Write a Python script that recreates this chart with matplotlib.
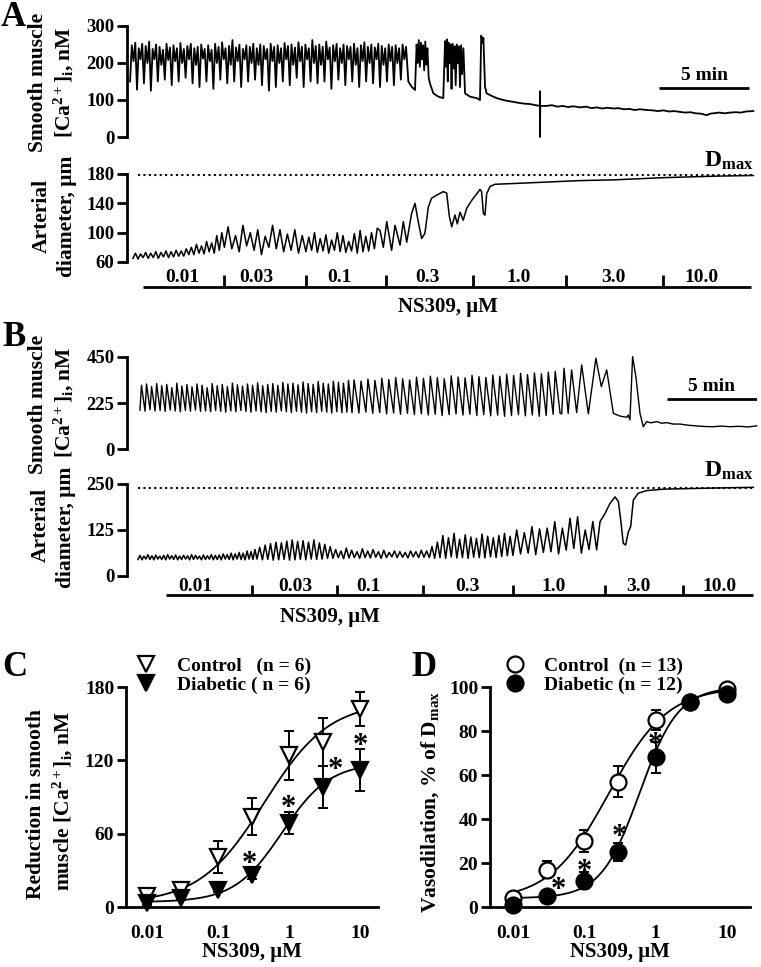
import numpy as np
import matplotlib.pyplot as plt

plt.rcParams['font.family'] = 'Liberation Serif'
plt.rcParams['font.weight'] = 'bold'
plt.rcParams['axes.labelweight'] = 'bold'
plt.rcParams['mathtext.fontset'] = 'custom'
plt.rcParams['mathtext.rm'] = 'Liberation Serif:bold'
plt.rcParams['mathtext.it'] = 'Liberation Serif:bold'
plt.rcParams['mathtext.bf'] = 'Liberation Serif:bold'

W, H = 761, 967

# ---------------- panel A : traces (time in min) ----------------
# Ca2+ trace, fast oscillating part (one peak / trough per cycle)
A_ca_osc_span = (0.17, 15.6)
A_ca_peaks = [248, 255, 240, 252, 246, 258, 238, 250, 244, 236, 252, 242, 248, 240, 254, 238, 246, 252, 240, 244,
              250, 238, 248, 236, 252, 244, 256, 240, 246, 262, 242, 250, 238, 248, 244, 252, 240, 250, 246, 238,
              252, 244, 248, 240, 254, 246, 250, 242, 256, 244, 250, 240, 262, 246, 250, 244, 258, 242, 248, 252,
              240, 250, 246, 244, 252, 240, 248, 256, 244, 250, 242, 252, 246, 240, 250, 244, 248, 240, 250, 244]
A_ca_troughs = [150, 205, 128, 210, 145, 200, 125, 210, 150, 195, 155, 208, 140, 205, 150, 200, 160, 210, 145, 195,
                135, 212, 150, 205, 130, 200, 155, 210, 145, 195, 150, 205, 135, 210, 150, 200, 155, 195, 140, 210,
                125, 205, 135, 200, 150, 210, 140, 195, 160, 205, 135, 210, 150, 200, 145, 195, 150, 210, 130, 205,
                155, 200, 140, 210, 150, 195, 135, 205, 150, 200, 145, 210, 135, 195, 150, 205, 140, 200, 155, 210]
# bursts, decay and artefact (time, value)
A_ca_tail = [(15.63, 150), (15.81, 136), (16.0, 127), (16.09, 250), (16.15, 200), (16.21, 262), (16.27, 190),
             (16.33, 255), (16.39, 210), (16.45, 248), (16.51, 180), (16.57, 258), (16.63, 195), (16.69, 240),
             (16.76, 160), (16.83, 145), (17.02, 118), (17.3, 109), (17.57, 105), (17.67, 259), (17.72, 190),
             (17.77, 264), (17.82, 150), (17.87, 255), (17.93, 200), (17.98, 250), (18.03, 130), (18.08, 252),
             (18.14, 185), (18.2, 245), (18.26, 140), (18.32, 250), (18.38, 200), (18.44, 245), (18.5, 135),
             (18.56, 248), (18.62, 170), (18.69, 240), (18.78, 118), (19.06, 109), (19.43, 105), (19.61, 100),
             (19.68, 274), (19.76, 255), (19.8, 268), (19.89, 136), (19.98, 118), (20.35, 109), (20.6, 104),
             (20.91, 100), (21.2, 97), (21.46, 95), (21.8, 92), (22.1, 90), (22.39, 89), (22.7, 86), (22.94, 84),
             (22.94, 123), (22.94, 0), (22.96, 84), (23.32, 84), (23.6, 86), (23.9, 82), (24.2, 84), (24.5, 81),
             (24.8, 83), (25.17, 80), (25.5, 82), (25.8, 78), (26.1, 80), (26.4, 77), (26.7, 79), (27.02, 77),
             (27.3, 78), (27.6, 75), (27.9, 76), (28.2, 73), (28.5, 75), (28.87, 73), (29.2, 72), (29.5, 70),
             (29.8, 72), (30.1, 69), (30.4, 70), (30.72, 68), (31.0, 66), (31.3, 67), (31.6, 64), (31.9, 63),
             (32.2, 59), (32.4, 63), (32.57, 64), (32.9, 66), (33.2, 64), (33.5, 66), (33.8, 67), (34.1, 66),
             (34.4, 69), (34.8, 70)]

# diameter trace, oscillating part split by concentration
A_d_spans = [(0.33, 5.41), (5.41, 9.94), (9.94, 14.06)]
A_d_peaks = [[72, 71, 73, 72, 74, 73, 75, 74, 76, 75, 78, 80, 84, 82, 88, 86, 96, 100],
             [108, 96, 110, 100, 104, 95, 110, 104, 98, 104, 96],
             [94, 100, 92, 97, 90, 100, 96, 88, 99, 103, 95, 100, 106]]
A_d_troughs = [[65, 64, 66, 65, 66, 65, 67, 66, 67, 68, 68, 70, 70, 72, 71, 74, 72, 76],
               [80, 78, 74, 82, 76, 70, 80, 78, 74, 76, 72],
               [74, 76, 73, 75, 72, 76, 74, 73, 75, 72, 74, 75, 78]]
A_d_tail = [(14.06, 103), (14.24, 80), (14.43, 115), (14.7, 76), (14.89, 110), (15.17, 83), (15.35, 115),
            (15.54, 87), (15.81, 126), (16.0, 140), (16.18, 115), (16.37, 92), (16.55, 99), (16.74, 135),
            (16.92, 147), (17.2, 151), (17.57, 156), (17.76, 154), (17.91, 122), (18.04, 108), (18.22, 124),
            (18.35, 112), (18.5, 128), (18.68, 117), (18.87, 133), (19.15, 144), (19.43, 153), (19.61, 159),
            (19.7, 156), (19.8, 126), (19.89, 124), (19.98, 153), (20.17, 163), (20.44, 166), (21.46, 167),
            (23.32, 169), (25.17, 171), (27.02, 172), (28.87, 174), (29.8, 175), (32.57, 177), (34.8, 178)]
A_dmax = 178
A_conc_ticks = [5.41, 9.94, 14.39, 19.24, 24.39, 29.76]
A_conc_bar = (0.91, 34.65)
A_conc_label_t = [3.07, 7.17, 11.8, 16.7, 21.75, 27.0, 31.9]

# ---------------- panel B : traces ----------------
B_ca_spans = [(0.72, 12.5), (12.5, 24.06)]
B_ca_peaks = [[312, 318, 305, 320, 310, 316, 300, 322, 308, 315, 304, 318, 312, 300, 320, 310, 316, 306, 322, 314, 308,
               318, 312, 324, 310, 316, 320, 312, 326, 318, 322, 314, 328, 320, 316, 330, 322, 318, 332, 326, 322, 336],
              [338, 332, 342, 336, 346, 340, 350, 344, 338, 352, 346, 356, 350, 344, 358,
               352, 348, 360, 354, 350, 362, 356, 366, 360, 370, 364, 372, 368, 376, 380]]
B_ca_troughs = [[190, 185, 192, 186, 188, 184, 190, 186, 182, 188, 185, 190, 184, 186, 182, 188, 184, 180, 186, 182, 188,
                 184, 180, 186, 182, 178, 184, 180, 186, 182, 178, 184, 180, 176, 182, 178, 184, 180, 176, 182, 178, 180],
                [178, 176, 180, 174, 178, 172, 176, 170, 174, 168, 172, 166, 170, 164, 168,
                 172, 166, 170, 164, 168, 162, 166, 160, 164, 168, 162, 166, 160, 164, 170]]
B_ca_tail = [(24.06, 174), (24.15, 172), (24.28, 395), (24.51, 174), (24.7, 387), (24.98, 178), (25.26, 411),
             (25.63, 172), (26.05, 444), (26.35, 305), (26.65, 387), (27.02, 174), (27.39, 161), (27.76, 155),
             (27.85, 166), (27.94, 142), (28.09, 452), (28.27, 354), (28.5, 174), (28.68, 109), (28.87, 134),
             (29.1, 128), (29.43, 134), (29.7, 126), (29.98, 129), (30.35, 122), (30.72, 122), (31.2, 116),
             (31.65, 113), (32.1, 110), (32.57, 109), (33.0, 112), (33.5, 109), (34.0, 111), (34.5, 108), (34.98, 113)]

B_d_spans = [(0.61, 7.22), (7.22, 11.44), (11.44, 17.39), (17.39, 21.44), (21.44, 26.09)]
B_d_peaks = [[56, 54, 58, 55, 57, 54, 56, 58, 55, 57, 54, 56, 55, 58, 56, 54, 57, 55, 58, 56, 57, 60, 58, 62, 60, 64,
              62, 68, 66, 72],
             [78, 84, 88, 92, 90, 95, 98, 94, 96, 92, 98, 90, 86, 80],
             [72, 68, 76, 70, 66, 74, 68, 72, 66, 70, 64, 68, 66, 64, 68, 66, 70, 68, 80, 92],
             [110, 104, 116, 100, 112, 106, 102, 114, 108, 104, 110, 116, 108],
             [125, 118, 134, 128, 130, 148, 130, 157, 161, 125, 148]]
B_d_troughs = [[45, 44, 46, 45, 44, 46, 45, 44, 46, 45, 44, 45, 46, 44, 45, 46, 44, 45, 46, 44, 45, 44, 46, 45, 44, 46,
                45, 44, 46, 45],
               [46, 44, 45, 43, 44, 45, 43, 44, 45, 44, 46, 45, 46, 48],
               [48, 50, 47, 49, 50, 48, 50, 49, 51, 48, 50, 52, 50, 51, 49, 52, 50, 51, 50, 48],
               [50, 48, 52, 49, 50, 48, 51, 50, 49, 52, 50, 53, 55],
               [56, 60, 62, 58, 64, 66, 60, 70, 75, 62, 72]]
B_d_tail = [(26.09, 71), (26.28, 148), (26.56, 170), (26.83, 197), (27.11, 215), (27.3, 202), (27.43, 152),
            (27.57, 89), (27.7, 84), (27.85, 120), (27.98, 134), (28.13, 206), (28.4, 225), (28.87, 232),
            (29.8, 236), (30.72, 237), (32.57, 239), (34.8, 241)]
B_dmax = 238
B_conc_ticks = [6.93, 11.65, 16.43, 21.46, 26.56, 30.91]
B_conc_bar = (2.15, 34.8)
B_conc_label_t = [3.78, 9.33, 13.4, 18.9, 23.7, 28.4, 32.9]

conc_labels = ['0.01', '0.03', '0.1', '0.3', '1.0', '3.0', '10.0']

# ---------------- panels C and D : concentration-response ----------------
conc = [0.01, 0.03, 0.1, 0.3, 1, 3, 10]
C_ctrl = [9, 14, 41, 74, 124, 135, 162]
C_ctrl_sem = [2, 3, 13, 15, 20, 20, 14]
C_diab = [3, 7, 14, 26, 69, 98, 112]
C_diab_sem = [1, 1, 2, 3, 9, 17, 17]
C_stars_x = [0.28, 0.97, 4.45, 10.0]
C_stars_y = [41, 87, 118, 138]

D_ctrl = [4, 17, 30, 57, 85, 93, 99]
D_ctrl_sem = [1, 4, 5, 7, 4.5, 1, 1]
D_diab = [1, 5, 12, 25, 68, 93, 97]
D_diab_sem = [1, 1, 4, 4, 7, 1, 1]
D_stars_x = [0.043, 0.1, 0.31, 1.0]
D_stars_y = [11, 19, 35, 77]

# fitted curves: bottom, top, EC50, Hill slope
fit_C_ctrl = (3, 168, 0.45, 0.95)
fit_C_diab = (4, 118, 0.8, 1.3)
fit_D_ctrl = (3, 100, 0.22, 1.05)
fit_D_diab = (4, 100, 0.6, 1.6)


def zigzag(t0, t1, peaks, troughs, frac=0.5):
    edges = np.linspace(t0, t1, len(peaks) + 1)
    tp = edges[:-1] + frac * (edges[1:] - edges[:-1])
    t = np.column_stack([edges[:-1], tp]).ravel()
    v = np.column_stack([troughs, peaks]).ravel()
    return t, v


def build(spans, peaks, troughs, tail, frac=0.5):
    ts, vs = [], []
    for (t0, t1), pk, tr in zip(spans, peaks, troughs):
        t, v = zigzag(t0, t1, pk, tr, frac)
        ts.append(t)
        vs.append(v)
    tail = np.array(tail, dtype=float)
    ts.append(tail[:, 0])
    vs.append(tail[:, 1])
    return np.concatenate(ts), np.concatenate(vs)


def hill(x, p):
    b, t, ec, n = p
    return b + (t - b) / (1 + (ec / x) ** n)


fig = plt.figure(figsize=(W / 100, H / 100), dpi=100)


def px_axes(left, top, right, bottom):
    return fig.add_axes([left / W, 1 - bottom / H, (right - left) / W, (bottom - top) / H])


def px_text(x, y, s, **kw):
    fig.text(x / W, 1 - y / H, s, **kw)


def trace_axes(box, ylim, yticks):
    ax = px_axes(*box)
    ax.set_xlim(0, 35)
    ax.set_ylim(*ylim)
    for side in ['top', 'right', 'bottom']:
        ax.spines[side].set_visible(False)
    ax.spines['left'].set_linewidth(2)
    ax.set_xticks([])
    ax.set_yticks(yticks)
    ax.tick_params(axis='y', length=7, width=2, labelsize=13.5, pad=2)
    ax.patch.set_alpha(0)
    return ax


def conc_bar(box, bar, ticks, label_t, y_bar, y_tick, y_lab):
    ax = px_axes(*box)
    ax.set_xlim(0, 35)
    ax.set_ylim(0, 1)
    ax.axis('off')
    ax.plot(bar, [y_bar, y_bar], color='black', lw=2, solid_capstyle='butt')
    ax.vlines(ticks, y_bar, y_tick, color='black', lw=2)
    for t, lab in zip(label_t, conc_labels):
        ax.text(t, y_lab, lab, ha='center', va='baseline', fontsize=14, fontweight='bold')
    return ax


dot = (0, (1, 1.6))
ylab_fs = 15.5

# ---- A ----
ax = trace_axes((127, 26, 757, 137), (0, 300), [0, 100, 200, 300])
t, v = build([A_ca_osc_span], [A_ca_peaks], [A_ca_troughs], A_ca_tail)
ax.plot(t, v, color='black', lw=1.3, clip_on=False)
ax.plot([29.56, 34.56], [132, 132], color='black', lw=2, solid_capstyle='butt')
ax.text(32.06, 143, '5 min', ha='center', va='bottom', fontsize=14, fontweight='bold')

ax = trace_axes((127, 174, 757, 262), (60, 180), [60, 100, 140, 180])
t, v = build(A_d_spans, A_d_peaks, A_d_troughs, A_d_tail)
ax.plot(t, v, color='black', lw=1.1, clip_on=False)
ax.hlines(A_dmax, 0.61, 34.7, color='black', lw=1.5, linestyles=[dot])
px_text(753, 167, r'D$_{\rm max}$', ha='right', va='baseline', fontsize=17)

conc_bar((127, 265, 757, 295), A_conc_bar, A_conc_ticks, A_conc_label_t, 0.277, 0.667, 0.45)
px_text(448, 307, 'NS309, μM', ha='center', va='center', fontsize=15)

px_text(38, 82, 'Smooth muscle', rotation=90, ha='center', va='center', fontsize=ylab_fs)
px_text(64, 82, r'[Ca$^{2+}$]$_{\rm i}$, nM', rotation=90, ha='center', va='center', fontsize=ylab_fs)
px_text(42, 216, 'Arterial', rotation=90, ha='center', va='center', fontsize=ylab_fs)
px_text(67, 216, 'diameter, μm', rotation=90, ha='center', va='center', fontsize=ylab_fs)
px_text(1, 26, 'A', ha='left', va='baseline', fontsize=25)

# ---- B ----
ax = trace_axes((127, 357, 757, 449), (0, 450), [0, 225, 450])
t, v = build(B_ca_spans, B_ca_peaks, B_ca_troughs, B_ca_tail, frac=0.3)
ax.plot(t, v, color='black', lw=1.0, clip_on=False)
ax.plot([30.0, 35.0], [245, 245], color='black', lw=2, solid_capstyle='butt')
ax.text(32.5, 262, '5 min', ha='center', va='bottom', fontsize=14, fontweight='bold')

ax = trace_axes((127, 484, 757, 576), (0, 250), [0, 125, 250])
t, v = build(B_d_spans, B_d_peaks, B_d_troughs, B_d_tail)
ax.plot(t, v, color='black', lw=1.1, clip_on=False)
ax.hlines(B_dmax, 0.61, 34.8, color='black', lw=1.5, linestyles=[dot])
px_text(753, 477, r'D$_{\rm max}$', ha='right', va='baseline', fontsize=17)

conc_bar((127, 573, 757, 603), B_conc_bar, B_conc_ticks, B_conc_label_t, 0.267, 0.6, 0.4)
px_text(330, 617, 'NS309, μM', ha='center', va='center', fontsize=15)

px_text(38, 404, 'Smooth muscle', rotation=90, ha='center', va='center', fontsize=ylab_fs)
px_text(64, 402, r'[Ca$^{2+}$]$_{\rm i}$, nM', rotation=90, ha='center', va='center', fontsize=ylab_fs)
px_text(41, 525, 'Arterial', rotation=90, ha='center', va='center', fontsize=ylab_fs)
px_text(66, 527, 'diameter, μm', rotation=90, ha='center', va='center', fontsize=ylab_fs)
px_text(2, 346, 'B', ha='left', va='baseline', fontsize=25)


# ---- C and D ----
def dose_axes(box, xlim, ylim, yticks):
    ax = px_axes(*box)
    ax.set_xscale('log')
    ax.set_xlim(*xlim)
    ax.set_ylim(*ylim)
    for side in ['top', 'right']:
        ax.spines[side].set_visible(False)
    for side in ['left', 'bottom']:
        ax.spines[side].set_linewidth(2)
    ax.set_xticks([0.01, 0.1, 1, 10])
    ax.set_xticklabels(['0.01', '0.1', '1', '10'])
    ax.minorticks_off()
    ax.set_yticks(yticks)
    ax.tick_params(axis='x', length=0, pad=13, labelsize=14)
    ax.tick_params(axis='y', length=6.5, width=2, pad=2, labelsize=14)
    ax.patch.set_alpha(0)
    return ax


def series(ax, y, sem, marker, face, label, fit, z):
    xs = np.logspace(-2, 1, 300)
    ax.plot(xs, hill(xs, fit), color='black', lw=1.3, zorder=2)
    eb = ax.errorbar(conc, y, yerr=sem, fmt='none', ecolor='black', elinewidth=1.4,
                     capsize=3.8, capthick=1.4, zorder=z)
    for ch in eb.get_children():
        ch.set_clip_on(False)
    ax.plot(conc, y, marker, ms=11.5, mfc=face, mec='black', mew=1.6, label=label,
            clip_on=False, zorder=z + 1, linestyle='none')


star_fs = 22

axC = dose_axes((126, 687, 378, 907), (10 ** -2.296, 10 ** 1.254), (0, 180), [0, 60, 120, 180])
series(axC, C_ctrl, C_ctrl_sem, 'v', 'white', 'Control   (n = 6)', fit_C_ctrl, 3)
series(axC, C_diab, C_diab_sem, 'v', 'black', 'Diabetic ( n = 6)', fit_C_diab, 5)
for x, y in zip(C_stars_x, C_stars_y):
    axC.annotate('*', (x, y), xytext=(0, -0.5 * star_fs), textcoords='offset points', ha='center',
                 va='baseline', fontsize=star_fs, annotation_clip=False)
axC.legend(loc='upper left', bbox_to_anchor=(0.035, 1.135), frameon=False, fontsize=14,
           handlelength=1.2, handletextpad=0.95, labelspacing=0.05, borderpad=0, borderaxespad=0)
axC.set_xlabel('NS309, μM', fontsize=15, labelpad=0)
px_text(36, 804, 'Reduction in smooth', rotation=90, ha='center', va='center', fontsize=ylab_fs)
px_text(63, 801, r'muscle [Ca$^{2+}$]$_{\rm i}$, nM', rotation=90, ha='center', va='center', fontsize=ylab_fs)
px_text(2, 676, 'C', ha='left', va='baseline', fontsize=25)

axD = dose_axes((490, 687, 750, 907), (10 ** -2.32, 10 ** 1.324), (0, 100), [0, 20, 40, 60, 80, 100])
series(axD, D_ctrl, D_ctrl_sem, 'o', 'white', 'Control  (n = 13)', fit_D_ctrl, 3)
series(axD, D_diab, D_diab_sem, 'o', 'black', 'Diabetic (n = 12)', fit_D_diab, 5)
for x, y in zip(D_stars_x, D_stars_y):
    axD.annotate('*', (x, y), xytext=(0, -0.5 * star_fs), textcoords='offset points', ha='center',
                 va='baseline', fontsize=star_fs, annotation_clip=False)
axD.legend(loc='upper left', bbox_to_anchor=(0.05, 1.135), frameon=False, fontsize=14,
           handlelength=1.2, handletextpad=0.9, labelspacing=0.05, borderpad=0, borderaxespad=0)
axD.set_xlabel('NS309, μM', fontsize=15, labelpad=0)
px_text(430, 802, r'Vasodilation, % of D$_{\rm max}$', rotation=90, ha='center', va='center', fontsize=ylab_fs)
px_text(411, 676, 'D', ha='left', va='baseline', fontsize=25)

fig.savefig('out.png', dpi=100)
